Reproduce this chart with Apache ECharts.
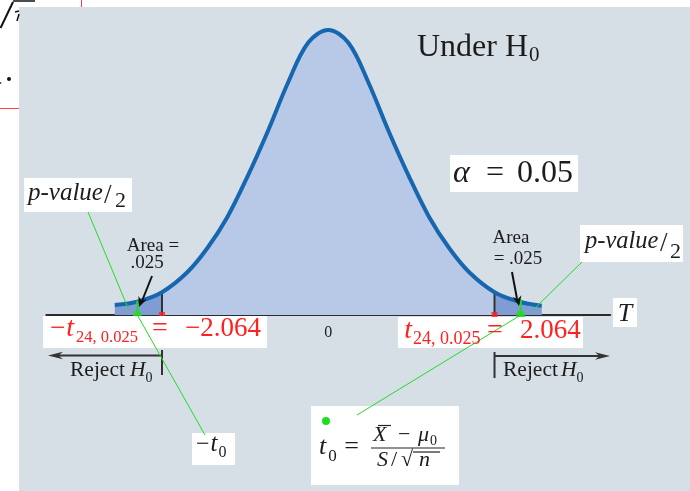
<!DOCTYPE html>
<html>
<head>
<meta charset="utf-8">
<script src="https://cdn.jsdelivr.net/npm/echarts@6/dist/echarts.min.js"></script>
<style>
  html, body { margin: 0; padding: 0; background: #ffffff; }
  #c { width: 690px; height: 491px; }
</style>
</head>
<body>
<div id="c"></div>
<script>
// Density of T under H0, sampled along the t axis
const tGrid   = [-2.65, -2.36, -2.064, -1.75, -1.5, -1.25, -1.0, -0.75, -0.5, -0.25, 0, 0.25, 0.5, 0.75, 1.0, 1.25, 1.5, 1.75, 2.064, 2.36, 2.65];
const density = [0.014, 0.019, 0.032, 0.060, 0.094, 0.138, 0.195, 0.258, 0.326, 0.382, 0.400, 0.382, 0.326, 0.258, 0.195, 0.138, 0.094, 0.060, 0.032, 0.019, 0.013];

// Critical values -t_{24,0.025}, t_{24,0.025} and curve height there
const criticalValues  = [-2.064, 2.064];
const criticalHeights = [0.032, 0.034];

// Observed statistic -t0 and t0 with the height of their marker lines
const testStats       = [-2.37, 2.39];
const testStatHeights = [0.020, 0.022];

// Axis tick labels that are printed
const xTickValues = [0];

const SERIF = 'Liberation Serif';
const BODY = '#b8c8e7';
const TAIL = '#7f9dd3';
const CURVE = '#1767b0';
const RED = '#ff2020';
const GREEN = '#22dd22';
const INK = '#1c1c1c';

const chart = echarts.init(document.getElementById('c'), null, { renderer: 'canvas' });
const curve = tGrid.map((t, i) => [t, density[i]]);

const series = [
  // filled area, coloured by region through visualMap
  { type: 'line', data: curve, smooth: 0.35, symbol: 'none', clip: false,
    lineStyle: { width: 0 }, areaStyle: { opacity: 1 }, z: 2, silent: true },
  // density curve outline
  { type: 'line', data: curve, smooth: 0.35, symbol: 'none', clip: false,
    lineStyle: { color: CURVE, width: 4 }, z: 4, silent: true }
];
criticalValues.forEach((c, i) => {
  series.push({ type: 'line', data: [[c, 0], [c, criticalHeights[i]]], symbol: 'none', clip: false,
    lineStyle: { color: '#333333', width: 2 }, z: 3, silent: true });
});
testStats.forEach((t, i) => {
  series.push({ type: 'line', data: [[t, 0], [t, testStatHeights[i]]], symbol: 'none', clip: false,
    lineStyle: { color: GREEN, width: 2 }, z: 5, silent: true });
});
series.push({ type: 'scatter', data: criticalValues.map(c => [c, 0]), symbol: 'rect', symbolSize: 6,
  itemStyle: { color: RED }, clip: false, z: 6, silent: true });
series.push({ type: 'scatter', data: testStats.map(t => [t, 0]), symbol: 'circle', symbolSize: 9,
  itemStyle: { color: GREEN }, clip: false, z: 6, silent: true });

chart.setOption({
  animation: false,
  backgroundColor: '#ffffff',
  grid: { left: 46.3, width: 563.9, top: 30, height: 285 },
  xAxis: {
    type: 'value', min: -3.5, max: 3.5, interval: 0.5,
    axisLine: { show: true, onZero: false, lineStyle: { color: '#2b2b2b', width: 2 } },
    axisTick: { show: false }, splitLine: { show: false },
    axisLabel: { margin: 10, fontFamily: SERIF, fontSize: 16, color: '#222',
      formatter: v => (xTickValues.indexOf(v) >= 0 ? String(v) : '') }
  },
  yAxis: { type: 'value', min: 0, max: 0.4, show: false },
  visualMap: {
    show: false, type: 'piecewise', seriesIndex: 0, dimension: 0,
    pieces: [
      { lt: criticalValues[0], color: TAIL },
      { gte: criticalValues[0], lte: criticalValues[1], color: BODY },
      { gt: criticalValues[1], color: TAIL }
    ]
  },
  series
});

// ---- annotations ----
const px = (x, y) => chart.convertToPixel({ gridIndex: 0 }, [x, y]);
const g = [];
const measureCtx = document.createElement('canvas').getContext('2d');
function width(s, size, italic) {
  measureCtx.font = (italic ? 'italic ' : '') + size + 'px "' + SERIF + '"';
  return measureCtx.measureText(s).width;
}
// text placed by its alphabetic baseline
function text(x, base, s, size, o) {
  o = o || {};
  g.push({ type: 'text', x, y: base - 0.3375 * size, z: 30, silent: true,
    style: { text: s, fontFamily: SERIF, fontSize: size, fontStyle: o.italic ? 'italic' : 'normal',
             fill: o.color || INK, align: o.align || 'left', verticalAlign: 'middle' } });
  return x + width(s, size, o.italic);
}
function box(x, y, w, h) {
  g.push({ type: 'rect', z: 10, silent: true, shape: { x, y, width: w, height: h }, style: { fill: '#ffffff' } });
}
function seg(x1, y1, x2, y2, color, w, z) {
  g.push({ type: 'line', z: z || 20, silent: true, shape: { x1, y1, x2, y2 },
    style: { stroke: color, lineWidth: w } });
}
function head(tx, ty, dx, dy, len, half, color) {
  const n = Math.hypot(dx, dy); const ux = dx / n, uy = dy / n;
  const bx = tx - ux * len, by = ty - uy * len;
  g.push({ type: 'polygon', z: 21, silent: true,
    shape: { points: [[tx, ty], [bx - uy * half, by + ux * half], [tx - ux * len * 0.7, ty - uy * len * 0.7], [bx + uy * half, by - ux * half]] },
    style: { fill: color } });
}

// panel behind the plot
g.push({ type: 'rect', z: -10, silent: true, shape: { x: 19, y: 7, width: 671, height: 484 }, style: { fill: '#d6dee6' } });

// page fragments left of the panel
seg(0.5, 28, 13, 2, '#111', 2, -5);
seg(13, 1, 35, 1, '#111', 1.5, -5);
seg(15, 12, 19, 11, '#111', 1.5, -5);
seg(17, 21, 19, 14, '#111', 1.5, -5);
g.push({ type: 'circle', z: -5, silent: true, shape: { cx: 9, cy: 79, r: 2 }, style: { fill: '#111' } });
g.push({ type: 'circle', z: -5, silent: true, shape: { cx: 0.5, cy: 83, r: 1 }, style: { fill: '#555' } });
seg(81.5, 0, 81.5, 7, '#ff4040', 1, -5);
seg(0, 108.5, 19, 108.5, '#ff4040', 1, -5);

// title and significance level
let e = text(417, 58, 'Under H', 32);
text(e + 1, 63, '0', 21);
box(450, 155, 128, 37);
text(453, 184, 'α', 32, { italic: true });
text(495, 184, '=', 32, { align: 'center' });
text(517, 184, '0.05', 32);

// axis name
box(613, 298, 24, 29);
text(625, 323, 'T', 26, { italic: true, align: 'center' });

// critical value labels
const cL = px(criticalValues[0], 0), cR = px(criticalValues[1], 0);
box(43, 316, 224, 32);
e = text(50, 338, '−', 27, { color: RED });
e = text(e + 1, 338, 't', 28, { color: RED, italic: true });
text(e + 2, 343, '24, 0.025', 16.5, { color: RED });
text(152, 338, '=', 28, { color: RED });
text(185, 338, '−2.064', 27, { color: RED });
box(398, 317, 185, 31);
text(413 - 1 - width('t', 28, true), 340, 't', 28, { color: RED, italic: true });
text(413, 345, '24, 0.025', 18, { color: RED });
text(487, 340, '=', 28, { color: RED });
text(520, 340, '2.064', 27, { color: RED });

// rejection regions
const ry = 355.5;
seg(cL[0], 350, cL[0], 375, '#333', 2);
seg(cL[0], ry, 58, ry, '#333', 2);
head(48, ry, -1, 0, 15, 3.8, '#333');
text(70, 378, 'Reject', 21.5);
e = text(130, 378, 'H', 21.5, { italic: true });
text(e, 383, '0', 14);
seg(cR[0], 352, cR[0], 378, '#333', 2);
seg(cR[0], ry + 0.5, 600, ry + 0.5, '#333', 2);
head(610, ry + 0.5, 1, 0, 15, 3.8, '#333');
text(503, 378, 'Reject', 21.5);
e = text(561, 378, 'H', 21.5, { italic: true });
text(e, 383, '0', 14);

// tail area notes
text(153, 252, 'Area =', 19, { align: 'center' });
text(147, 269, '.025', 19, { align: 'center' });
seg(152, 276, 142, 301, '#111', 2);
head(139, 307, -10, 26, 10, 4.5, '#111');
text(511, 244, 'Area', 19, { align: 'center' });
text(518, 265, '= .025', 19, { align: 'center' });
seg(512, 272, 517, 299, '#111', 2);
head(519, 306, 6, 30, 10, 4.5, '#111');

// p-value labels
box(24, 178, 108, 34);
text(28, 202, 'p-value', 25, { italic: true });
text(104, 205, '/', 27);
text(115, 209, '2', 22);
box(580, 225, 103, 37);
text(585, 250, 'p-value', 24.5, { italic: true });
text(660, 253, '/', 27);
text(670, 260, '2', 22);

// -t0 and t0 labels
box(192, 433, 43, 32);
e = text(196, 453, '−', 24);
e = text(e + 1, 453, 't', 25, { italic: true });
text(e + 1, 458, '0', 16);
box(311, 406, 148, 79);
g.push({ type: 'circle', z: 25, silent: true, shape: { cx: 326, cy: 421, r: 4 }, style: { fill: GREEN } });
e = text(319, 456, 't', 26, { italic: true });
text(e + 2, 462, '0', 17);
text(351.5, 456, '=', 26, { align: 'center' });
seg(371, 448, 445, 448, '#222', 1.2, 30);
text(373, 443, 'X', 22, { italic: true });
seg(378, 425.5, 391, 425.5, '#222', 1.2, 30);
text(398, 443, '−', 22);
e = text(418, 443, 'μ', 22, { italic: true });
text(e + 1, 446, '0', 14);
text(377, 468, 'S', 22, { italic: true });
text(391, 468, '/', 22);
text(401, 468, '√', 22);
seg(413, 452, 440, 452, '#222', 1.2, 30);
text(419, 468, 'n', 22, { italic: true });

// leader lines
const dL = px(testStats[0], 0), dR = px(testStats[1], 0);
seg(88, 212, 128, 308, GREEN, 1, 26);
seg(dL[0], dL[1], 205, 435, GREEN, 1, 26);
seg(582, 262, 533, 310, GREEN, 1, 26);
seg(dR[0], dR[1], 357, 415, GREEN, 1, 26);

chart.setOption({ graphic: { elements: g } });
</script>
</body>
</html>
